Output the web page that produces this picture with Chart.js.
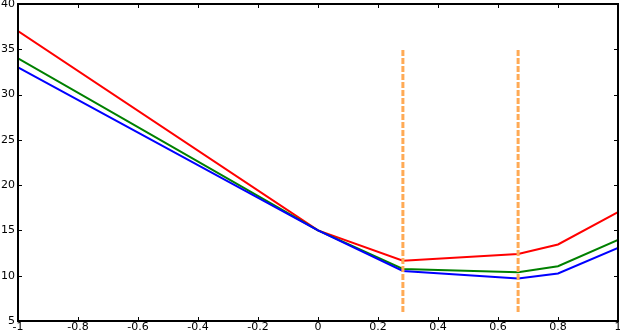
<!DOCTYPE html>
<html>
<head>
<meta charset="utf-8">
<script src="https://cdn.jsdelivr.net/npm/chart.js@4"></script>
<style>
  html, body { margin: 0; padding: 0; background: #fff; }
  #wrap { width: 620px; height: 332px; }
</style>
</head>
<body>
<div id="wrap"><canvas id="chart" width="620" height="332"></canvas></div>
<script>
// x positions of the breakpoints
const xValues = [-1, 0, 0.283, 0.667, 0.8, 1];
const redValues = [37, 15, 11.65, 12.4, 13.45, 17.03];
const greenValues = [34, 15, 10.74, 10.38, 11.05, 13.94];
const blueValues = [33, 15, 10.52, 9.68, 10.25, 13.06];
// vertical dashed markers
const markX = [0.283, 0.667];
const markRange = [6, 35];
const xTicks = [-1, -0.8, -0.6, -0.4, -0.2, 0, 0.2, 0.4, 0.6, 0.8, 1];
const yTicks = [5, 10, 15, 20, 25, 30, 35, 40];

const toPoints = vals => xValues.map((x, i) => ({ x: x, y: vals[i] }));

const series = (vals, color) => ({
  data: toPoints(vals),
  borderColor: color,
  borderWidth: 2,
  pointRadius: 0,
  tension: 0,
  fill: false
});

const marker = x => ({
  data: markRange.map(y => ({ x: x, y: y })),
  borderColor: '#ffaa55',
  borderWidth: 3,
  borderDash: [6, 2],
  pointRadius: 0,
  fill: false
});

// frame + inward ticks on all four sides
const framePlugin = {
  id: 'frame',
  afterDraw(chart) {
    const { ctx, chartArea: a, scales } = chart;
    ctx.save();
    ctx.strokeStyle = '#000';
    ctx.lineWidth = 1;
    const len = 4;
    ctx.beginPath();
    xTicks.forEach(v => {
      const px = Math.round(scales.x.getPixelForValue(v)) + 0.5;
      ctx.moveTo(px, a.bottom); ctx.lineTo(px, a.bottom - len);
      ctx.moveTo(px, a.top); ctx.lineTo(px, a.top + len);
    });
    yTicks.forEach(v => {
      const py = Math.round(scales.y.getPixelForValue(v)) + 0.5;
      ctx.moveTo(a.left, py); ctx.lineTo(a.left + len, py);
      ctx.moveTo(a.right, py); ctx.lineTo(a.right - len, py);
    });
    ctx.stroke();
    ctx.lineWidth = 2;
    ctx.strokeRect(a.left, a.top, a.right - a.left, a.bottom - a.top);
    ctx.restore();
  }
};

const tickFont = { family: 'DejaVu Sans', size: 11 };

new Chart(document.getElementById('chart'), {
  type: 'line',
  data: {
    datasets: [
      marker(markX[0]),
      marker(markX[1]),
      series(blueValues, '#0000ff'),
      series(greenValues, '#008000'),
      series(redValues, '#ff0000')
    ]
  },
  options: {
    responsive: false,
    animation: false,
    layout: { padding: { left: 0, right: 2, top: 4, bottom: 0 } },
    plugins: { legend: { display: false }, tooltip: { enabled: false } },
    scales: {
      x: {
        type: 'linear',
        min: -1,
        max: 1,
        grid: { display: false, drawTicks: false },
        border: { display: false },
        afterBuildTicks: s => { s.ticks = xTicks.map(v => ({ value: v })); },
        afterFit: s => { s.height = 11; s.paddingLeft = 0; s.paddingRight = 0; },
        ticks: {
          autoSkip: false,
          maxRotation: 0,
          padding: 0,
          color: '#000',
          font: tickFont,
          callback: v => String(v)
        }
      },
      y: {
        min: 5,
        max: 40,
        grid: { display: false, drawTicks: false },
        border: { display: false },
        afterBuildTicks: s => { s.ticks = yTicks.map(v => ({ value: v })); },
        afterFit: s => { s.width = 18; s.paddingTop = 0; s.paddingBottom = 0; },
        ticks: {
          padding: 3,
          color: '#000',
          font: tickFont
        }
      }
    }
  },
  plugins: [framePlugin]
});
</script>
</body>
</html>
